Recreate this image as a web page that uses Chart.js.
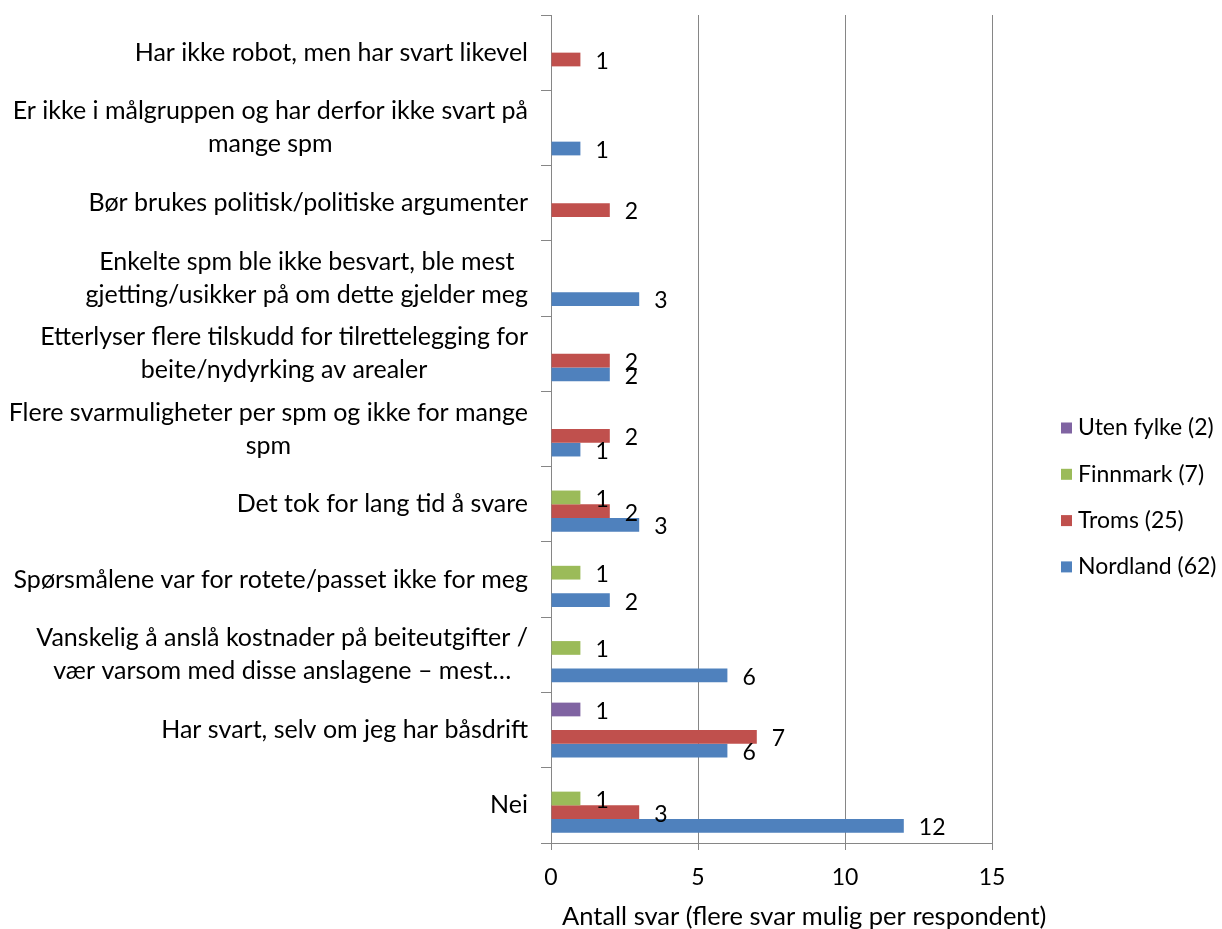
<!DOCTYPE html>
<html>
<head>
<meta charset="utf-8">
<script src="https://cdn.jsdelivr.net/npm/chart.js@4.4.1/dist/chart.umd.min.js"></script>
<style>
  html, body { margin: 0; padding: 0; background: #ffffff; }
  #wrap { width: 1222px; height: 929px; }
</style>
</head>
<body>
<div id="wrap"><canvas id="c" width="1222" height="929"></canvas></div>
<script>
// Categories, top to bottom as shown
const categories = [
  "Har ikke robot, men har svart likevel",
  ["Er ikke i målgruppen og har derfor ikke svart på", "mange spm"],
  "Bør brukes politisk/politiske argumenter",
  ["Enkelte spm ble ikke besvart, ble mest", "gjetting/usikker på om dette gjelder meg"],
  ["Etterlyser flere tilskudd for tilrettelegging for", "beite/nydyrking av arealer"],
  ["Flere svarmuligheter per spm og ikke for mange", "spm"],
  "Det tok for lang tid å svare",
  "Spørsmålene var for rotete/passet ikke for meg",
  ["Vanskelig å anslå kostnader på beiteutgifter /", "vær varsom med disse anslagene – mest…"],
  "Har svart, selv om jeg har båsdrift",
  "Nei"
];

const seriesNames = ["Uten fylke (2)", "Finnmark (7)", "Troms (25)", "Nordland (62)"];

const utenFylke = [null, null, null, null, null, null, null, null, null, 1, null];
const finnmark  = [null, null, null, null, null, null, 1, 1, 1, null, 1];
const troms     = [1, null, 2, null, 2, 2, 2, null, null, 7, 3];
const nordland  = [null, 1, null, 3, 2, 1, 3, 2, 6, 6, 12];

const xTicks = [0, 5, 10, 15];
const xTitle = "Antall svar (flere svar mulig per respondent)";

const colors = ["#8064A2", "#9BBB59", "#C0504D", "#4F81BD"];
const FONT = "Lato";

const seriesValues = [utenFylke, finnmark, troms, nordland];

const categoryLabelPlugin = {
  id: "categoryLabels",
  afterDraw(chart) {
    const ctx = chart.ctx;
    const yScale = chart.scales.y;
    ctx.save();
    ctx.font = "25px " + FONT;
    ctx.fillStyle = "#000000";
    ctx.textBaseline = "middle";
    ctx.textAlign = "center";
    const rightEdge = 528;
    const lineH = 33;
    categories.forEach((lab, i) => {
      const lines = Array.isArray(lab) ? lab : [lab];
      const maxW = Math.max(...lines.map(l => ctx.measureText(l).width));
      const cx = rightEdge - maxW / 2;
      const cy = yScale.getPixelForValue(i);
      const y0 = cy - (lines.length - 1) * lineH / 2;
      lines.forEach((l, k) => ctx.fillText(l, cx, y0 + k * lineH));
    });
    ctx.restore();
  }
};

const dataLabelPlugin = {
  id: "dataLabels",
  afterDatasetsDraw(chart) {
    const ctx = chart.ctx;
    ctx.save();
    ctx.font = "23px " + FONT;
    ctx.fillStyle = "#000000";
    ctx.textBaseline = "middle";
    ctx.textAlign = "left";
    chart.data.datasets.forEach((ds, di) => {
      const meta = chart.getDatasetMeta(di);
      meta.data.forEach((bar, i) => {
        const v = ds.data[i];
        if (v === null || v === undefined) return;
        ctx.fillText(String(v), bar.x + 15, bar.y + 2);
      });
    });
    ctx.restore();
  }
};

const legendPlugin = {
  id: "customLegend",
  afterDraw(chart) {
    const ctx = chart.ctx;
    ctx.save();
    ctx.font = "23px " + FONT;
    ctx.textBaseline = "middle";
    ctx.textAlign = "left";
    const x0 = 1061, yStart = 428, step = 46.3, box = 11;
    chart.data.datasets.forEach((ds, di) => {
      const y = yStart + di * step;
      ctx.fillStyle = ds.backgroundColor;
      ctx.fillRect(x0, y - box / 2, box, box);
      ctx.fillStyle = "#000000";
      ctx.fillText(ds.label, x0 + 17, y);
    });
    ctx.restore();
  }
};

const axisTitlePlugin = {
  id: "axisTitle",
  afterDraw(chart) {
    const ctx = chart.ctx;
    const area = chart.chartArea;
    ctx.save();
    ctx.font = "25.5px " + FONT;
    ctx.fillStyle = "#000000";
    ctx.textBaseline = "middle";
    ctx.textAlign = "left";
    ctx.fillText(xTitle, area.left + 11, 917);
    ctx.restore();
  }
};

const chart = new Chart(document.getElementById("c"), {
  type: "bar",
  data: {
    labels: categories,
    datasets: seriesNames.map((name, i) => ({
      label: name,
      data: seriesValues[i],
      backgroundColor: colors[i],
      borderWidth: 0,
      categoryPercentage: 0.73,
      barPercentage: 1.0
    }))
  },
  options: {
    indexAxis: "y",
    responsive: false,
    devicePixelRatio: 1,
    animation: false,
    layout: { padding: { left: 0, right: 230, top: 15, bottom: 0 } },
    plugins: {
      legend: { display: false },
      tooltip: { enabled: false }
    },
    scales: {
      x: {
        min: 0, max: 15,
        afterBuildTicks(scale) { scale.ticks = xTicks.map(v => ({ value: v })); },
        afterFit(scale) { scale.height = 86; },
        grid: {
          color: "#868686",
          lineWidth: 1,
          drawTicks: true,
          tickLength: 7,
          tickColor: "#868686"
        },
        border: { display: true, color: "#868686", width: 1 },
        ticks: {
          font: { family: FONT, size: 23 },
          color: "#000000",
          padding: 14,
          maxRotation: 0
        },
        title: { display: false }
      },
      y: {
        afterFit(scale) { scale.width = 551; },
        grid: {
          offset: true,
          drawOnChartArea: false,
          drawTicks: true,
          tickLength: 10,
          color: "#868686",
          tickColor: "#868686"
        },
        border: { display: true, color: "#868686", width: 1 },
        ticks: { display: false }
      }
    }
  },
  plugins: [categoryLabelPlugin, dataLabelPlugin, legendPlugin, axisTitlePlugin]
});
</script>
</body>
</html>
